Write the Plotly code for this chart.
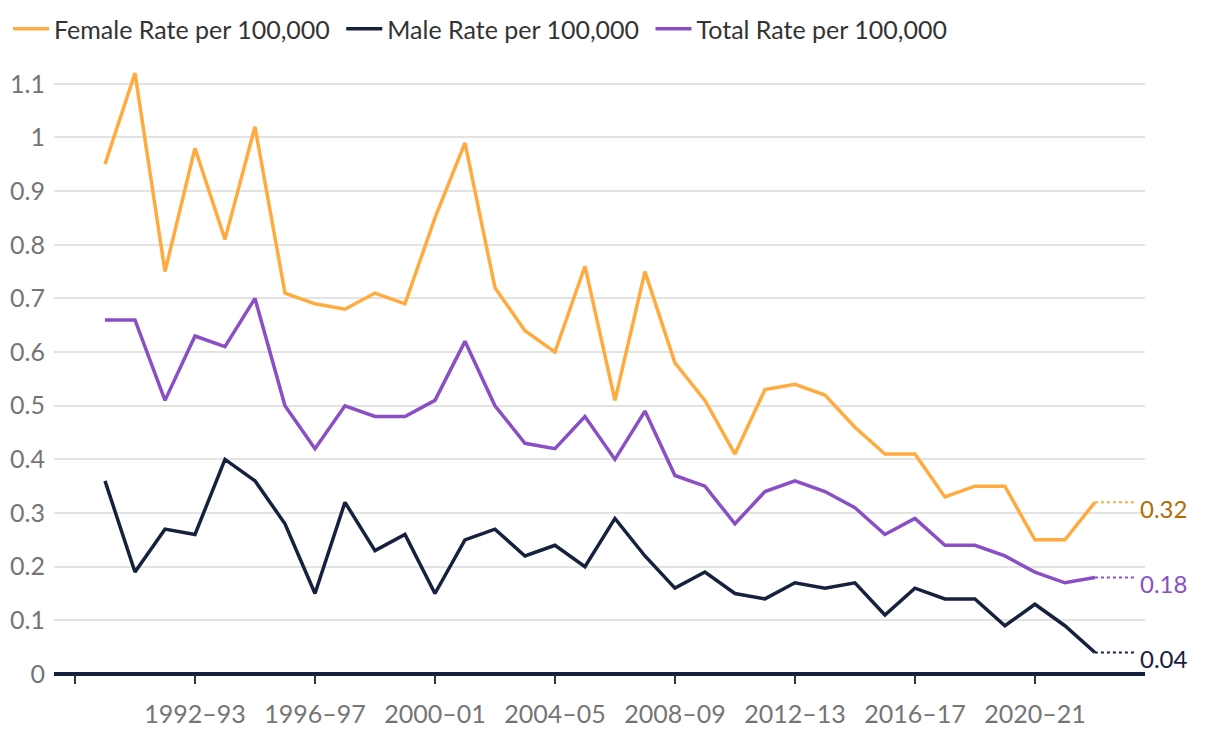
import plotly.graph_objects as go

years = ["1989-90","1990-91","1991-92","1992-93","1993-94","1994-95","1995-96","1996-97",
         "1997-98","1998-99","1999-00","2000-01","2001-02","2002-03","2003-04","2004-05",
         "2005-06","2006-07","2007-08","2008-09","2009-10","2010-11","2011-12","2012-13",
         "2013-14","2014-15","2015-16","2016-17","2017-18","2018-19","2019-20","2020-21",
         "2021-22","2022-23"]
female = [0.95,1.12,0.75,0.98,0.81,1.02,0.71,0.69,0.68,0.71,0.69,0.85,0.99,0.72,0.64,0.60,
          0.76,0.51,0.75,0.58,0.51,0.41,0.53,0.54,0.52,0.46,0.41,0.41,0.33,0.35,0.35,0.25,
          0.25,0.32]
male = [0.36,0.19,0.27,0.26,0.40,0.36,0.28,0.15,0.32,0.23,0.26,0.15,0.25,0.27,0.22,0.24,
        0.20,0.29,0.22,0.16,0.19,0.15,0.14,0.17,0.16,0.17,0.11,0.16,0.14,0.14,0.09,0.13,
        0.09,0.04]
total = [0.66,0.66,0.51,0.63,0.61,0.70,0.50,0.42,0.50,0.48,0.48,0.51,0.62,0.50,0.43,0.42,
         0.48,0.40,0.49,0.37,0.35,0.28,0.34,0.36,0.34,0.31,0.26,0.29,0.24,0.24,0.22,0.19,
         0.17,0.18]
tick_labels = ["", "1992–93", "1996–97", "2000–01", "2004–05", "2008–09", "2012–13", "2016–17", "2020–21"]
tick_years = [1988, 1992, 1996, 2000, 2004, 2008, 2012, 2016, 2020]

x = [int(y[:4]) for y in years]

series = [
    ("Female Rate per 100,000", female, "#FFAB40", "#B56A00"),
    ("Male Rate per 100,000", male, "#16213E", "#16213E"),
    ("Total Rate per 100,000", total, "#8A4FC4", "#8A4FC4"),
]

fig = go.Figure()
for name, vals, col, lab in series:
    fig.add_trace(go.Scatter(x=x, y=vals, name=name + "\u00a0", mode="lines",
                             line=dict(color=col, width=3.5)))
for name, vals, col, lab in series:
    fig.add_trace(go.Scatter(x=[x[-1], x[-1] + 1.35], y=[vals[-1], vals[-1]], mode="lines",
                             line=dict(color=col, width=2, dash="dot"), showlegend=False,
                             hoverinfo="skip"))
    fig.add_annotation(x=x[-1] + 1.45, y=vals[-1], text=f"{vals[-1]:.2f}", showarrow=False,
                       xanchor="left", yanchor="middle", yshift=-6,
                       font=dict(size=24, color=lab, family="Lato"))

fig.update_layout(
    width=1220, height=738,
    margin=dict(l=46, r=83, t=49, b=72),
    paper_bgcolor="white", plot_bgcolor="white",
    font=dict(family="Lato", size=25, color="#757575"),
    legend=dict(orientation="h", xref="container", yref="container", x=0.0, y=1 - 21/738,
                xanchor="left", yanchor="middle", font=dict(size=25, color="#333333"),
                itemwidth=36, traceorder="normal"),
    showlegend=True,
)
fig.update_xaxes(range=[1987.3, 2023.67], tickvals=tick_years, ticktext=tick_labels,
                 showgrid=False, zeroline=False, showline=False, automargin=False,
                 ticks="outside", ticklen=9, tickwidth=2, tickcolor="#333333",
                 ticklabelstandoff=9, tickfont=dict(size=25, color="#757575"))
fig.update_yaxes(range=[0, 1.15], tickvals=[0,0.1,0.2,0.3,0.4,0.5,0.6,0.7,0.8,0.9,1,1.1],
                 ticktext=["0","0.1","0.2","0.3","0.4","0.5","0.6","0.7","0.8","0.9","1","1.1"],
                 showgrid=True, gridcolor="#E3E3E3", gridwidth=1.5,
                 zeroline=True, zerolinecolor="#16213E", zerolinewidth=4,
                 showline=False, ticks="", automargin=False, ticklabelstandoff=8,
                 tickfont=dict(size=25, color="#757575"))

fig.write_html("out.html")
